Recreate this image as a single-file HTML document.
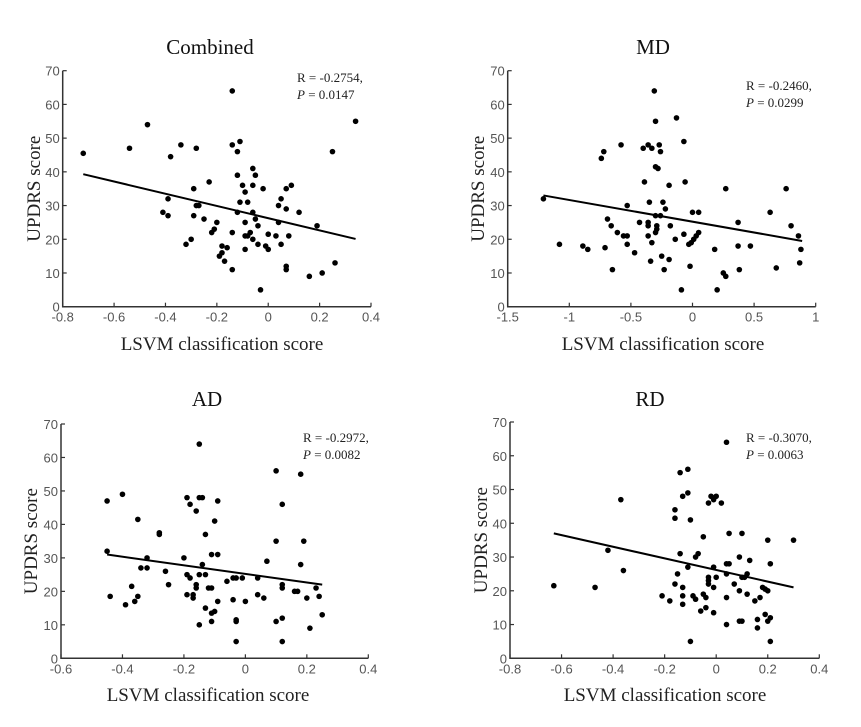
<!DOCTYPE html>
<html><head><meta charset="utf-8">
<style>
body{margin:0;background:#fff;}
svg{display:block;}
.tick{font-family:"Liberation Sans",sans-serif;font-size:13px;fill:#555;}
.ttl{font-family:"Liberation Serif",serif;font-size:21px;fill:#111;}
.lbl{font-family:"Liberation Serif",serif;font-size:19px;fill:#222;}
.ann{font-family:"Liberation Serif",serif;font-size:13px;fill:#222;}
</style></head>
<body>
<svg id="chart" width="861" height="727" viewBox="0 0 861 727" xmlns="http://www.w3.org/2000/svg"></svg>
<script>
// Combined
const xs1=[-0.72,-0.54,-0.47,-0.38,-0.34,-0.28,-0.14,-0.14,-0.11,-0.12,0.34,0.25,-0.06,-0.05,-0.12,-0.23,-0.29,-0.10,-0.06,-0.02,-0.09,0.07,0.09,0.05,0.04,0.07,0.12,-0.39,-0.41,-0.39,-0.28,-0.27,-0.29,-0.25,-0.20,-0.21,-0.22,-0.30,-0.32,-0.14,-0.12,-0.11,-0.08,-0.06,-0.05,-0.09,-0.04,-0.07,-0.08,-0.09,-0.06,0.00,0.04,0.03,0.08,0.05,-0.04,-0.01,0.00,-0.09,-0.18,-0.16,-0.18,-0.19,-0.17,-0.14,-0.03,0.07,0.07,0.16,0.21,0.26,0.19];
const ys1=[45.5,47,54,44.5,48,47,64,48,49,46,55,46,41,39,39,37,35,36,36,35,34,35,36,32,30,29,28,32,28,27,30,30,27,26,25,23,22,20,18.5,22,28,31,31,28,26,25,24,22,21,21,20,21.5,25,21,21,18.5,18.5,18,17,17,18,17.5,16,15,13.5,11,5,12,11,9,10,13,24];
const lineX1=[-0.72,0.34], lineY1=[39.3,20.1];
// MD
const xs2=[-1.21,-1.08,-0.89,-0.85,-0.74,-0.72,-0.71,-0.69,-0.66,-0.65,-0.61,-0.58,-0.56,-0.53,-0.53,-0.53,-0.47,-0.43,-0.40,-0.36,-0.33,-0.39,-0.35,-0.36,-0.36,-0.36,-0.33,-0.34,-0.31,-0.30,-0.30,-0.28,-0.27,-0.26,-0.30,-0.29,-0.29,-0.30,-0.26,-0.24,-0.22,-0.25,-0.23,-0.19,-0.19,-0.18,-0.13,-0.14,-0.07,-0.06,-0.07,-0.03,-0.01,0.01,0.03,0.05,0.00,0.05,-0.02,-0.09,0.18,0.20,0.25,0.27,0.27,0.37,0.37,0.38,0.47,0.63,0.68,0.76,0.80,0.86,0.88,0.87];
const ys2=[32,18.5,18,17,44,46,17.5,26,24,11,22,48,21,21,30,18.5,16,25,47,48,47,37,31,25,24,21,19,13.5,64,55,41.5,41,48,46,27,24,23,22,27,31,29,15,11,14,36,24,56,20,49,37,21.5,18.5,19,20,21,22,28,28,12,5,17,5,10,9,35,25,18,11,18,28,11.5,35,24,21,17,13];
const lineX2=[-1.21,0.89], lineY2=[33,19.5];
// AD
const xs3=[-0.45,-0.45,-0.44,-0.40,-0.39,-0.37,-0.35,-0.36,-0.35,-0.34,-0.32,-0.32,-0.28,-0.28,-0.26,-0.25,-0.20,-0.19,-0.19,-0.18,-0.16,-0.19,-0.18,-0.17,-0.17,-0.16,-0.16,-0.15,-0.15,-0.15,-0.15,-0.14,-0.14,-0.13,-0.13,-0.13,-0.12,-0.11,-0.11,-0.09,-0.10,-0.09,-0.11,-0.11,-0.10,-0.09,-0.06,-0.04,-0.04,-0.03,-0.03,-0.03,-0.03,-0.01,0.00,0.04,0.04,0.06,0.07,0.10,0.10,0.10,0.12,0.12,0.12,0.12,0.12,0.16,0.17,0.18,0.18,0.19,0.20,0.21,0.23,0.24,0.25];
const ys3=[47,32,18.5,49,16,21.5,41.5,17,18.5,27,30,27,37,37.5,26,22,30,19,48,46,44,25,24,19,18,22,21,25,10,64,48,48,28,37,25,15,21,21,31,31,41,47,11,13.5,14,17,23,24,17.5,5,11,11.5,24,24,17,19,24,18,29,56,35,11,46,12,5,21,22,20,20,28,55,35,18,9,21,18.5,13];
const lineX3=[-0.45,0.25], lineY3=[31,22];
// RD
const xs4=[-0.63,-0.47,-0.42,-0.37,-0.36,-0.21,-0.18,-0.16,-0.16,-0.16,-0.15,-0.14,-0.14,-0.13,-0.13,-0.13,-0.13,-0.11,-0.11,-0.11,-0.10,-0.10,-0.09,-0.08,-0.08,-0.07,-0.06,-0.05,-0.05,-0.04,-0.04,-0.03,-0.03,-0.03,-0.03,-0.02,-0.01,-0.01,-0.01,0.00,-0.01,0.00,0.02,0.04,0.04,0.04,0.04,0.04,0.05,0.05,0.07,0.09,0.09,0.09,0.10,0.10,0.10,0.11,0.12,0.12,0.13,0.15,0.16,0.16,0.17,0.18,0.19,0.19,0.20,0.20,0.20,0.21,0.21,0.21,0.30];
const ys4=[21.5,21,32,47,26,18.5,17,22,44,41.5,25,31,55,21,18.5,16,48,49,56,27,41,5,18.5,17.5,30,31,14,36,19,18,15,24,23,46,22,48,21,13.5,27,24,47,48,46,64,18,10,28,25,28,37,22,30,20,11,11,24,37,24,25,19,29,17,11.5,9,18,21,20.5,13,20,35,11,12,28,5,35];
const lineX4=[-0.63,0.30], lineY4=[37,21];

const titles=["Combined","MD","AD","RD"];
const annR=["R = -0.2754,","R = -0.2460,","R = -0.2972,","R = -0.3070,"];
const annP=[" = 0.0147"," = 0.0299"," = 0.0082"," = 0.0063"];
const xTicks1=[-0.8,-0.6,-0.4,-0.2,0,0.2,0.4];
const xTicks2=[-1.5,-1,-0.5,0,0.5,1];
const xTicks3=[-0.6,-0.4,-0.2,0,0.2,0.4];
const xTicks4=[-0.8,-0.6,-0.4,-0.2,0,0.2,0.4];
const yTicks=[0,10,20,30,40,50,60,70];

const NS="http://www.w3.org/2000/svg";
const svg=document.getElementById('chart');
function mk(tag,attrs,parent){const e=document.createElementNS(NS,tag);for(const k in attrs)e.setAttribute(k,attrs[k]);(parent||svg).appendChild(e);return e;}

const panels=[
 {xs:xs1,ys:ys1,lx:lineX1,ly:lineY1,ticks:xTicks1,L:62.7,R:371,T:70.7,B:306.7,tx:210,ty:54,lx0:222,lby:350,ylx:40,ax:297,ay:82},
 {xs:xs2,ys:ys2,lx:lineX2,ly:lineY2,ticks:xTicks2,L:507.7,R:815.7,T:70.7,B:306.7,tx:653,ty:54,lx0:663,lby:350,ylx:484,ax:746,ay:90},
 {xs:xs3,ys:ys3,lx:lineX3,ly:lineY3,ticks:xTicks3,L:61,R:368.3,T:424,B:658.3,tx:207,ty:406,lx0:208,lby:701,ylx:37,ax:303,ay:442},
 {xs:xs4,ys:ys4,lx:lineX4,ly:lineY4,ticks:xTicks4,L:510,R:819.3,T:422,B:658.3,tx:650,ty:406,lx0:665,lby:701,ylx:487,ax:746,ay:442}
];

panels.forEach((p,i)=>{
  const g=mk('g',{});
  
  
  const x0=p.ticks[0], x1=p.ticks[p.ticks.length-1];
  const sx=v=>p.L+(v-x0)/(x1-x0)*(p.R-p.L);
  const sy=v=>p.B-v/70*(p.B-p.T);
  const t=mk('text',{x:p.tx,y:p.ty,'text-anchor':'middle',class:'ttl'},g);t.textContent=titles[i];
  
  
  const ax=mk('path',{d:`M${p.L},${p.T}V${p.B}H${p.R}`,fill:'none',stroke:'#333','stroke-width':1.5},g);
  
  
  yTicks.forEach(v=>{
    mk('line',{x1:p.L,x2:p.L+4,y1:sy(v),y2:sy(v),stroke:'#333','stroke-width':1.2},g);
    const tl=mk('text',{x:p.L-3,y:sy(v)+5,'text-anchor':'end',class:'tick'},g);tl.textContent=v;
    
    
  });
  p.ticks.forEach(v=>{
    mk('line',{x1:sx(v),x2:sx(v),y1:p.B,y2:p.B-4,stroke:'#333','stroke-width':1.2},g);
    const tl=mk('text',{x:sx(v),y:p.B+15,'text-anchor':'middle',class:'tick'},g);tl.textContent=v;
    
    
  });
  const xl=mk('text',{x:p.lx0,y:p.lby,'text-anchor':'middle',class:'lbl'},g);xl.textContent='LSVM classification score';
  
  
  const cy=(p.T+p.B)/2;
  const yl=mk('text',{x:p.ylx,y:cy,'text-anchor':'middle',class:'lbl',transform:`rotate(-90 ${p.ylx} ${cy})`},g);yl.textContent='UPDRS score';
  
  
  p.xs.forEach((v,k)=>{
    const c=mk('circle',{cx:sx(v),cy:sy(p.ys[k]),r:2.8,fill:'#000'},g);
    
    
  });
  const ln=mk('line',{x1:sx(p.lx[0]),y1:sy(p.ly[0]),x2:sx(p.lx[1]),y2:sy(p.ly[1]),stroke:'#000','stroke-width':2},g);
  
  
  const a1=mk('text',{x:p.ax,y:p.ay,class:'ann'},g);a1.textContent=annR[i];
  
  
  const a2=mk('text',{x:p.ax,y:p.ay+17,class:'ann'},g);
  
  
  const it=mk('tspan',{'font-style':'italic'},a2);it.textContent='P';
  const rest=mk('tspan',{},a2);rest.textContent=annP[i];
});
</script>
</body></html>
